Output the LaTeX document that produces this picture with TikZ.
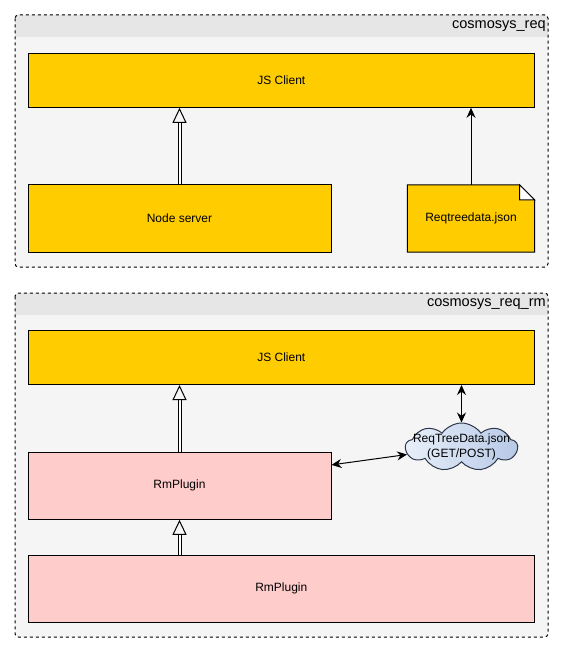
\documentclass[tikz,border=0pt]{standalone}
\usepackage{fontspec}
\setmainfont{Liberation Sans}
\usetikzlibrary{arrows.meta, shapes.symbols}
\definecolor{lanefill}{HTML}{F5F5F5}
\definecolor{laneband}{HTML}{E6E6E6}
\definecolor{clientfill}{HTML}{FFCC00}
\definecolor{pluginfill}{HTML}{FFCCCC}
\definecolor{cloudlight}{HTML}{E8EFF9}
\definecolor{clouddark}{HTML}{B7C9E7}
\definecolor{cloudline}{HTML}{2E384C}

\begin{document}
\begin{tikzpicture}[
				x=0.75pt, y=-0.75pt,
				lane/.style={draw=black, line width=0.75pt, dash pattern=on 2.25pt off 2.25pt, rounded corners=2.5pt},
				lanetitle/.style={anchor=east, inner sep=0pt, font=\fontsize{10.9}{12}\selectfont},
				box/.style={draw=black, line width=0.75pt, font=\fontsize{9}{11}\selectfont},
				client/.style={box, fill=clientfill, minimum width=379.5pt, minimum height=40.5pt},
				plugin/.style={box, fill=pluginfill, minimum height=50.25pt},
				filebox/.style={box, draw=none, outer sep=0pt, minimum width=95.6pt, minimum height=50.25pt},
				notepage/.style={draw=black, fill=clientfill, line width=0.75pt},
				cloudbox/.style={cloud, cloud puffs=9, cloud puff arc=110, cloud ignores aspect, draw=cloudline, line width=0.75pt, left color=cloudlight, right color=clouddark, minimum width=84pt, minimum height=36pt, inner sep=0pt},
				implarrow/.style={draw=black, line width=0.75pt, double=white, double distance=1.5pt, -{Triangle[open, length=11.25pt, width=10.5pt]}},
				dataarrow/.style={line width=0.75pt, -{Stealth[length=7.5pt, width=6.75pt, inset=2.5pt]}},
				syncarrow/.style={line width=0.75pt, {Stealth[length=7.5pt, width=6.75pt, inset=2.5pt]}-{Stealth[length=7.5pt, width=6.75pt, inset=2.5pt]}}
			]
			\useasboundingbox[fill=white] (0,0) rectangle (564,652);
			% Lanes
			\foreach \ytop/\ybot/\lanename/\i in {15/267/cosmosys\_req/1, 293/637/cosmosys\_req\_rm/2} {
					\fill[lanefill, rounded corners=2.5pt] (15,\ytop) rectangle (548,\ybot);
					\fill[laneband, rounded corners=2.5pt] (15,\ytop+22) -- (15,\ytop) -- (548,\ytop) [sharp corners] -- (548,\ytop+22) -- cycle;
					\draw[lane] (15,\ytop) rectangle (548,\ybot);
					\node[lanetitle] (title\i) at (546,\ytop+11) {\lanename};
				}
			% cosmosys_req
			\node[client] (js1) at (281.3,80.3) {JS Client};
			\node[plugin, fill=clientfill, minimum width=227.25pt] (server) at (179.5,218.5) {Node server};
			% note page with folded corner
			\draw[notepage] (407.3,185) -- (519.7,185) -- (534.7,200) -- (534.7,252) -- (407.3,252) -- cycle;
			\draw[notepage, fill=white] (519.7,185) -- (519.7,200) -- (534.7,200) -- cycle;
			\node[filebox] (data) at (471,218.5) {Reqtreedata.json};
			\draw[implarrow] (server) -- (server |- js1.south);
			\draw[dataarrow] (data) -- (data |- js1.south);
			% cosmosys_req_rm
			\node[client] (js2) at (281.3,357.5) {JS Client};
			\node[plugin, minimum width=227.25pt] (rm1) at (179.5,485.8) {RmPlugin};
			\node[plugin, minimum width=379.5pt, minimum height=49.9pt] (rm2) at (281.3,588.8) {RmPlugin};
			\node[cloudbox, label={[align=center, font=\fontsize{9}{11}\selectfont]center:ReqTreeData.json\\(GET/POST)}] (cloud) at (461.5,447) {};
			\draw[implarrow] (rm1) -- (rm1 |- js2.south);
			\draw[implarrow] (rm1 |- rm2.north) -- (rm1);
			\draw[syncarrow] (cloud |- js2.south) -- (cloud);
			\draw[syncarrow] (rm1) -- (cloud);
		\end{tikzpicture}
\end{document}
